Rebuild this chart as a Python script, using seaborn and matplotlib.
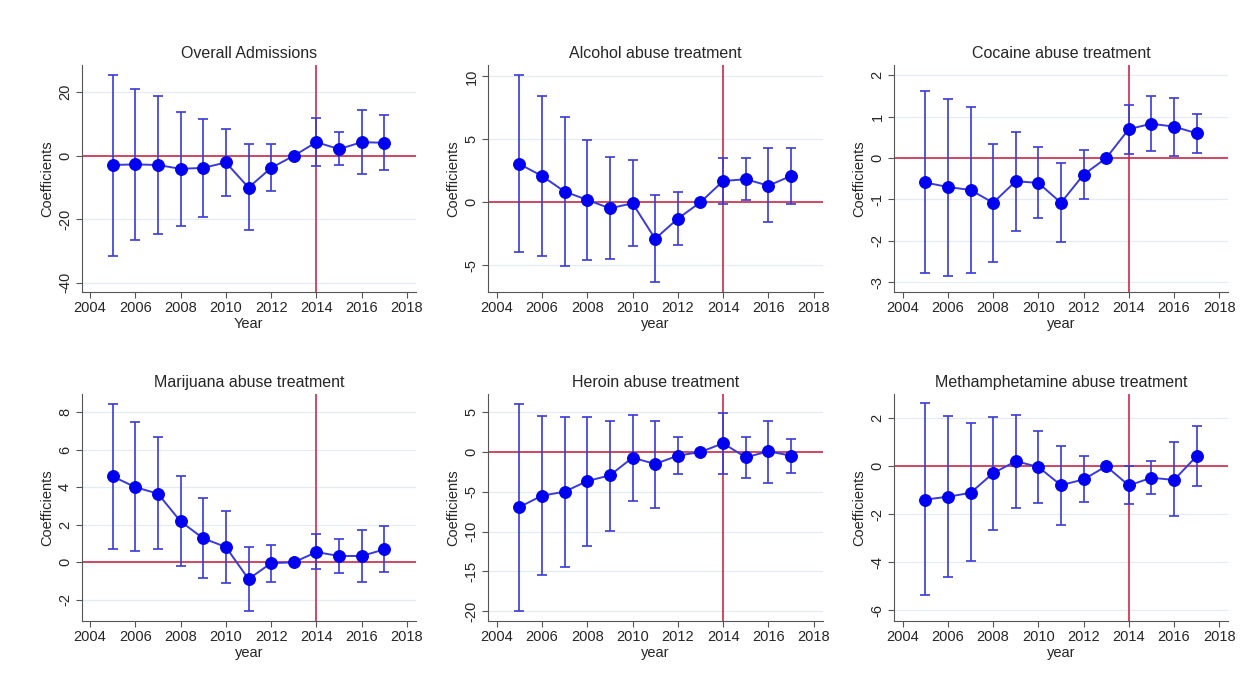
import numpy as np
import pandas as pd
import matplotlib
matplotlib.use("Agg")
import matplotlib.pyplot as plt
import seaborn as sns

sns.set_theme(style="white")
plt.rcParams['font.family'] = ['Liberation Sans', 'DejaVu Sans']

years = [2005, 2006, 2007, 2008, 2009, 2010, 2011, 2012, 2013, 2014, 2015, 2016, 2017]

# Event-study coefficients with 95% confidence bounds (2013 is the reference year)
overall_coef = [-2.9, -2.7, -2.9, -4.1, -3.8, -2.1, -10.0, -3.8, 0.0, 4.3, 2.1, 4.3, 4.1]
overall_hi = [25.4, 21.1, 18.8, 13.9, 11.7, 8.5, 3.6, 3.6, np.nan, 11.9, 7.6, 14.5, 12.7]
overall_lo = [-31.5, -26.5, -24.7, -22.0, -19.3, -12.8, -23.4, -11.1, np.nan, -3.1, -3.0, -5.7, -4.4]

alcohol_coef = [3.04, 2.09, 0.85, 0.19, -0.48, -0.08, -2.9, -1.3, 0.0, 1.69, 1.83, 1.32, 2.09]
alcohol_hi = [10.1, 8.44, 6.8, 4.95, 3.6, 3.35, 0.6, 0.8, np.nan, 3.54, 3.54, 4.29, 4.34]
alcohol_lo = [-3.97, -4.26, -5.08, -4.58, -4.47, -3.47, -6.35, -3.41, np.nan, -0.13, 0.19, -1.59, -0.13]

cocaine_coef = [-0.59, -0.70, -0.77, -1.08, -0.56, -0.60, -1.08, -0.40, 0.0, 0.70, 0.83, 0.76, 0.60]
cocaine_hi = [1.62, 1.44, 1.24, 0.35, 0.63, 0.26, -0.12, 0.19, np.nan, 1.28, 1.50, 1.45, 1.06]
cocaine_lo = [-2.79, -2.85, -2.79, -2.51, -1.76, -1.46, -2.04, -1.00, np.nan, 0.11, 0.16, 0.06, 0.13]

marijuana_coef = [4.58, 4.01, 3.66, 2.18, 1.28, 0.82, -0.89, -0.04, 0.0, 0.55, 0.34, 0.34, 0.69]
marijuana_hi = [8.46, 7.50, 6.68, 4.60, 3.41, 2.75, 0.83, 0.91, np.nan, 1.51, 1.23, 1.72, 1.92]
marijuana_lo = [0.71, 0.59, 0.69, -0.21, -0.83, -1.12, -2.58, -1.05, np.nan, -0.37, -0.55, -1.05, -0.52]

heroin_coef = [-6.92, -5.49, -4.99, -3.65, -2.94, -0.71, -1.51, -0.46, 0.0, 1.09, -0.67, 0.08, -0.46]
heroin_hi = [6.08, 4.53, 4.36, 4.44, 3.90, 4.70, 3.86, 1.84, np.nan, 4.95, 1.84, 3.90, 1.59]
heroin_lo = [-19.96, -15.5, -14.4, -11.8, -9.9, -6.2, -7.04, -2.81, np.nan, -2.77, -3.23, -3.86, -2.64]

meth_coef = [-1.39, -1.27, -1.11, -0.29, 0.21, -0.03, -0.79, -0.55, 0.0, -0.80, -0.48, -0.57, 0.42]
meth_hi = [2.62, 2.09, 1.79, 2.05, 2.13, 1.45, 0.86, 0.42, np.nan, 0.01, 0.21, 1.00, 1.66]
meth_lo = [-5.35, -4.61, -3.96, -2.66, -1.73, -1.54, -2.44, -1.50, np.nan, -1.59, -1.14, -2.09, -0.83]

titles = ["Overall Admissions", "Alcohol abuse treatment", "Cocaine abuse treatment",
          "Marijuana abuse treatment", "Heroin abuse treatment", "Methamphetamine abuse treatment"]
xlabels = ["Year", "year", "year", "year", "year", "year"]
yticks = [[-40, -20, 0, 20], [-5, 0, 5, 10], [-3, -2, -1, 0, 1, 2],
          [-2, 0, 2, 4, 6, 8], [-20, -15, -10, -5, 0, 5], [-6, -4, -2, 0, 2]]
ylims = [(-42.8, 28.6), (-7.1, 10.9), (-3.23, 2.25), (-3.11, 8.96), (-21.2, 7.25), (-6.44, 3.0)]
xticks = [2004, 2006, 2008, 2010, 2012, 2014, 2016, 2018]
policy_year = 2014

series = [
    (overall_coef, overall_lo, overall_hi),
    (alcohol_coef, alcohol_lo, alcohol_hi),
    (cocaine_coef, cocaine_lo, cocaine_hi),
    (marijuana_coef, marijuana_lo, marijuana_hi),
    (heroin_coef, heroin_lo, heroin_hi),
    (meth_coef, meth_lo, meth_hi),
]

W, H = 1254, 692
fig = plt.figure(figsize=(W / 100, H / 100), dpi=100)
fig.patch.set_facecolor("white")

# axes boxes in pixels: left, right, top, bottom
col_lr = [(81.7, 416.0), (488.3, 822.7), (894.3, 1228.3)]
row_tb = [(65.0, 291.7), (394.3, 620.7)]

blue = "#0000f0"
line_blue = "#3a3ad8"
red = "#cc2a48"
grid_c = "#e6ebf2"
spine_c = "#555555"

for i, (coef, lo, hi) in enumerate(series):
    r, c = divmod(i, 3)
    l, rr = col_lr[c]
    t, b = row_tb[r]
    ax = fig.add_axes([l / W, 1 - b / H, (rr - l) / W, (b - t) / H])

    df = pd.DataFrame({"year": years, "coef": coef, "lo": lo, "hi": hi})

    for yv in yticks[i]:
        ax.axhline(yv, color=grid_c, lw=0.9, zorder=0)
    ax.axhline(0, color=red, lw=1.2, zorder=1)
    ax.axvline(policy_year, color=red, lw=1.2, zorder=1)

    ci = df.dropna()
    ax.errorbar(ci["year"], ci["coef"],
                yerr=[ci["coef"] - ci["lo"], ci["hi"] - ci["coef"]],
                fmt="none", ecolor=line_blue, elinewidth=1.2, capsize=3.5,
                capthick=1.2, zorder=2)
    sns.lineplot(data=df, x="year", y="coef", ax=ax, color=line_blue, lw=1.4,
                 marker="o", markersize=8.5, markerfacecolor=blue,
                 markeredgecolor=blue, zorder=3)

    ax.set_xlim(2003.63, 2018.4)
    ax.set_ylim(*ylims[i])
    ax.set_xticks(xticks)
    ax.set_yticks(yticks[i])
    ax.set_yticklabels([str(v) for v in yticks[i]], rotation=90, va="center")
    ax.tick_params(axis="both", labelsize=10.5, length=4, width=0.8,
                   color=spine_c, pad=3, left=True, bottom=True)
    ax.set_title(titles[i], fontsize=11.5, pad=5)
    ax.set_xlabel(xlabels[i], fontsize=10.5, labelpad=1)
    ax.set_ylabel("Coefficients", fontsize=10.5, labelpad=3)
    for side in ["top", "right"]:
        ax.spines[side].set_visible(False)
    for side in ["left", "bottom"]:
        ax.spines[side].set_color(spine_c)
        ax.spines[side].set_linewidth(0.8)
    ax.set_facecolor("white")

fig.savefig("out.png", dpi=100, facecolor="white")
